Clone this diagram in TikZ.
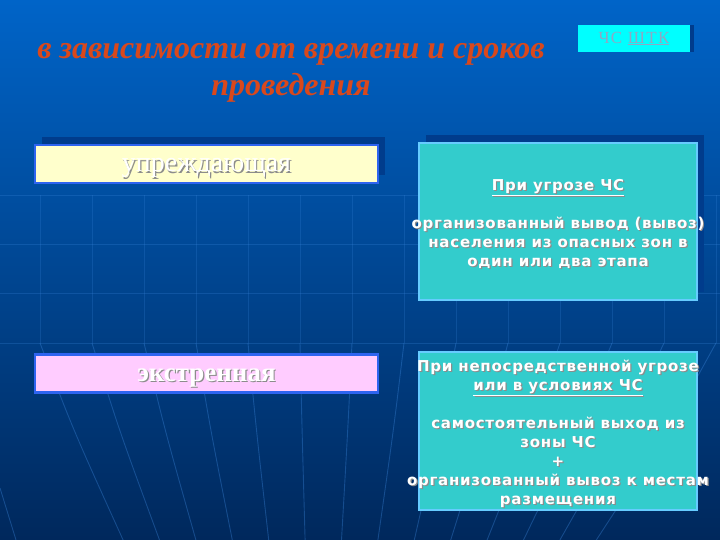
\documentclass[tikz,border=0pt]{standalone}
\usepackage{fontspec}
\setmainfont{Liberation Serif}
\newfontfamily\boxfont{DejaVu Sans}[LetterSpace=5]
\newfontfamily\linkfont{Liberation Serif}[LetterSpace=8]
\usetikzlibrary{shadows}

\definecolor{bgtop}{HTML}{0064C8}
\definecolor{bgmid}{HTML}{004E9E}
\definecolor{bgbot}{HTML}{00285C}
\definecolor{gridblue}{HTML}{3F8AE0}
\definecolor{titlered}{HTML}{D9481C}
\definecolor{edgeblue}{HTML}{2E64F0}
\definecolor{paleyellow}{HTML}{FFFFCC}
\definecolor{palepink}{HTML}{FFCCFF}
\definecolor{turq}{HTML}{33CCCC}
\definecolor{skyedge}{HTML}{66CCFF}
\definecolor{shadowblue}{HTML}{003C8C}
\definecolor{linkcyan}{HTML}{00FFFF}
\definecolor{linkgrey}{HTML}{8EA8C4}

% white letters with a grey drop shadow
\newcommand{\shd}[1]{\makebox[0pt][l]{\hspace{1.2pt}\raisebox{-1.2pt}{\color{black!45}#1}}#1}

\begin{document}
\begin{tikzpicture}[x=1pt, y=-1pt,
    kind/.style={draw=edgeblue, line width=2.5pt, minimum width=343pt, minimum height=38pt, inner sep=0pt},
    kindtext/.style={text=white, font=\fontsize{28}{30}\selectfont},
    way/.style={draw=skyedge, line width=2.5pt, fill=turq, minimum width=278pt, minimum height=157pt, inner sep=0pt},
    waytext/.style={align=center, text=white, font=\boxfont\bfseries\fontsize{15}{19}\selectfont},
    backshadow/.style={drop shadow={shadow xshift=7pt, shadow yshift=8pt, fill=shadowblue, opacity=1}}]

  % background with its faint grid
  \shade[top color=bgtop, middle color=bgmid, bottom color=bgbot] (0,0) rectangle (720,540);
  \useasboundingbox (0,0) rectangle (720,540);
  \foreach \gy in {195,244,293,343}
    \draw[gridblue, opacity=0.25, line width=0.8pt] (0,\gy) -- (720,\gy);
  \foreach \gx in {40,92,...,716} {
    \draw[gridblue, opacity=0.22, line width=0.8pt] (\gx,195) -- (\gx,343);
    \draw[gridblue, opacity=0.35, line width=0.9pt] (\gx,343) .. controls ({\gx+(317-\gx)*0.12},430) .. ({\gx+(317-\gx)*0.3},540);
  }
  \draw[gridblue, opacity=0.35, line width=0.9pt] (0,488) -- (16,540);

  % title and link button
  \node[align=center, text=titlered, font=\bfseries\itshape\fontsize{32}{37}\selectfont] (title) at (291,73)
    {в зависимости от времени и сроков\\проведения};
  \node[fill=linkcyan, minimum width=112pt, minimum height=27pt, inner sep=0pt, text=linkgrey,
    font=\linkfont\fontsize{17}{19}\selectfont] (link) at (634,38.5) {ЧС \underline{ШТК}};
  \fill[shadowblue] (link.north east) rectangle ++(4,27);

  % left column
  \node[kind, fill=paleyellow, backshadow] (early) at (206.5,164) {};
  \node[kindtext] at ([yshift=-5pt]early.center) {\shd{упреждающая}};
  \node[kind, fill=palepink] (urgent) at (206.5,373.5) {};
  \node[kindtext, font=\bfseries\fontsize{27}{30}\selectfont] at ([yshift=-5pt]urgent.center) {\shd{экстренная}};

  % right column
  \node[way, backshadow] (threat) at (558,221.5) {};
  \node[waytext] at ([yshift=-3pt]threat.center)
    {\shd{\underline{При угрозе ЧС}}\\[19pt]
     \shd{организованный вывод (вывоз)}\\
     \shd{населения из опасных зон в}\\
     \shd{один или два этапа}};
  \node[way, minimum height=158pt] (direct) at (558,431) {};
  \node[waytext] at ([yshift=-3pt]direct.center)
    {\shd{При непосредственной угрозе}\\
     \shd{\underline{или в условиях ЧС}}\\[19pt]
     \shd{самостоятельный выход из}\\
     \shd{зоны ЧС}\\
     \shd{+}\\
     \shd{организованный вывоз к местам}\\
     \shd{размещения}};
\end{tikzpicture}
\end{document}
